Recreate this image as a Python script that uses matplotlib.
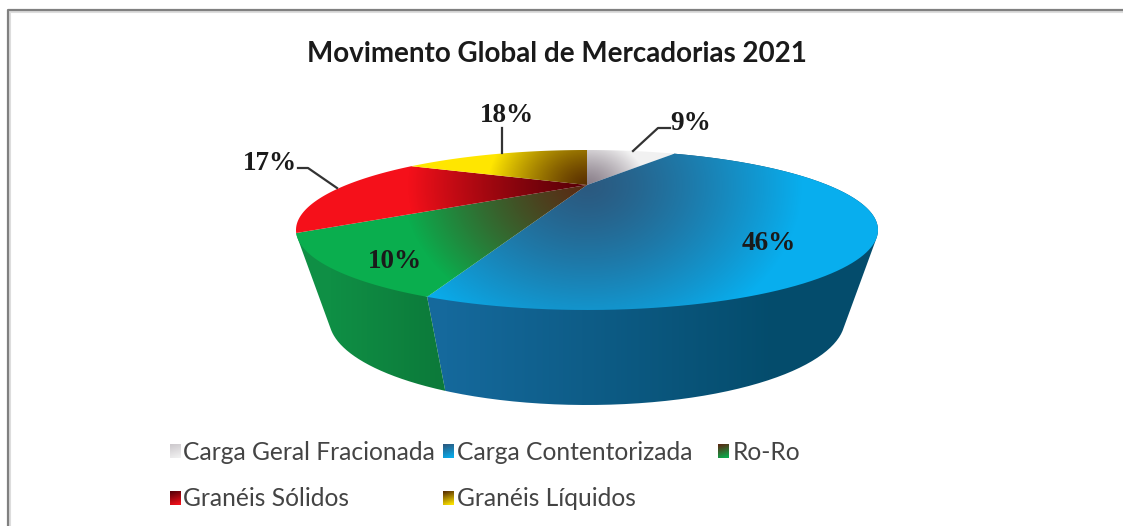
import numpy as np
import matplotlib
matplotlib.use("Agg")
import matplotlib.pyplot as plt
from matplotlib.colors import LinearSegmentedColormap
from matplotlib.patches import PathPatch
from matplotlib.path import Path

categories = ["Carga Geral Fracionada", "Carga Contentorizada", "Ro-Ro", "Granéis Sólidos", "Granéis Líquidos"]
values = [9, 46, 10, 17, 18]
value_labels = ["9%", "46%", "10%", "17%", "18%"]
dark_colors = ["#8a7f8a", "#2b5a80", "#5a2a14", "#5a0008", "#5a3000"]
bright_colors = ["#f1f1f1", "#08aeee", "#0aae4e", "#f5101a", "#ffe600"]
grad_radius = [60, 215, 185, 180, 100]
side_colors = {1: ("#15699c", "#044c6c"), 2: ("#0f8f45", "#0c7a3a")}

W, H = 1123, 526
CX = 587
TOP = dict(a=291, yc=230, b=80)
BOT = dict(a=258, yc=319, b=86)
K = 45 / 80


def rim(frac, e):
    # projective map of a circle, so slice angles look like the perspective pie
    ang = np.asarray(frac) * 2 * np.pi
    u, v = np.sin(ang), np.cos(ang)
    w = 1 + K * v
    x = CX + e["a"] * np.sqrt(1 - K**2) * u / w
    y = e["yc"] - e["b"] * (v + K) / w
    return x, y


def convex_hull(points):
    pts = sorted(set(points))

    def half(seq):
        out = []
        for p in seq:
            while len(out) >= 2 and (out[-1][0] - out[-2][0]) * (p[1] - out[-2][1]) - (out[-1][1] - out[-2][1]) * (p[0] - out[-2][0]) <= 0:
                out.pop()
            out.append(p)
        return out[:-1]

    return half(pts) + half(pts[::-1])


def gradient_clip(ax, path, cmap, data, zorder):
    im = ax.imshow(data, cmap=cmap, vmin=0, vmax=1, extent=(0, W, H, 0), zorder=zorder,
                   interpolation="bilinear", aspect="auto")
    patch = PathPatch(path, transform=ax.transData, fc="none", ec="none")
    ax.add_patch(patch)
    im.set_clip_path(patch)


fig = plt.figure(figsize=(W / 100, H / 100), dpi=100)
ax = fig.add_axes([0, 0, 1, 1])
ax.set_xlim(0, W)
ax.set_ylim(H, 0)
ax.axis("off")

# chart frame, only left and top show in the crop
ax.plot([10, 10, W], [H, 12, 12], color="#dddddd", lw=1.5, zorder=1)
ax.plot([8, 8, W], [H, 10, 10], color="#808080", lw=1.6, zorder=1)

yy, xx = np.mgrid[0:H, 0:W]
edges = np.concatenate([[0], np.cumsum(values)]) / sum(values)

# sides first, the top face covers what is behind
for i, (c0, c1) in side_colors.items():
    fr = np.linspace(edges[i], edges[i + 1], 200)
    xt, yt = rim(fr, TOP)
    xb, yb = rim(fr, BOT)
    hull = convex_hull(list(zip(xt, yt)) + list(zip(xb, yb)))
    cmap = LinearSegmentedColormap.from_list("s", [c0, c1])
    if i == 1:
        data = np.clip((xx - 445) / 330, 0, 1)
    else:
        data = np.clip((xx - 330) / 110, 0, 1)
    gradient_clip(ax, Path(hull + hull[:1]), cmap, data, 2)

# top face slices
apex_x, apex_y = CX, 185
dist = np.hypot(xx - apex_x, (yy - apex_y) * 1.3)
for i in range(len(values)):
    fr = np.linspace(edges[i], edges[i + 1], 120)
    xt, yt = rim(fr, TOP)
    pts = [(apex_x, apex_y)] + list(zip(xt, yt)) + [(apex_x, apex_y)]
    cmap = LinearSegmentedColormap.from_list("t", [dark_colors[i], bright_colors[i]])
    data = np.clip(dist / grad_radius[i], 0, 1) ** 1.3
    gradient_clip(ax, Path(pts), cmap, data, 3 + i * 0.1)

# leader lines
leader_xs = [[633, 658, 670], [501.5, 501.5], [337, 308, 298]]
leader_ys = [[151, 128, 128], [153, 128], [188, 168, 168]]
for lx, ly in zip(leader_xs, leader_ys):
    ax.plot(lx, ly, color="#333333", lw=1.6, zorder=5)

label_x = [691, 769, 395, 270, 507]
label_y = [123, 243, 261, 164, 115]
for s, lx, ly in zip(value_labels, label_x, label_y):
    ax.text(lx, ly, s, family="Liberation Serif", weight="bold", fontsize=19.5, color="#1a1a1a",
            ha="center", va="center", zorder=6)

ax.text(557, 54, "Movimento Global de Mercadorias 2021", family="Lato", weight="bold", fontsize=20,
        color="#1a1a1a", ha="center", va="center", zorder=6)

# legend
swatch_x = [170, 443, 718, 170, 443]
swatch_y = [451, 451, 451, 498, 498]
text_x = [183, 457, 733, 183, 457]
swatch_from = [0.65, 0, 0, 0, 0]
for i, name in enumerate(categories):
    sx, sy = swatch_x[i], swatch_y[i]
    gy, gx = np.mgrid[0:1:8j, 0:1:8j]
    cmap = LinearSegmentedColormap.from_list("l", [dark_colors[i], bright_colors[i]])
    ramp = swatch_from[i] + (1 - swatch_from[i]) * (gx * 0.2 + gy * 0.8)
    ax.imshow(ramp, cmap=cmap, vmin=0, vmax=1, extent=(sx, sx + 11, sy + 7, sy - 7),
              zorder=6, interpolation="bilinear", aspect="auto")
    ax.text(text_x[i], sy + 1, name, family="Lato", fontsize=17.7, color="#444444", ha="left", va="center", zorder=6)

ax.set_xlim(0, W)
ax.set_ylim(H, 0)
fig.savefig("out.png", dpi=100)
